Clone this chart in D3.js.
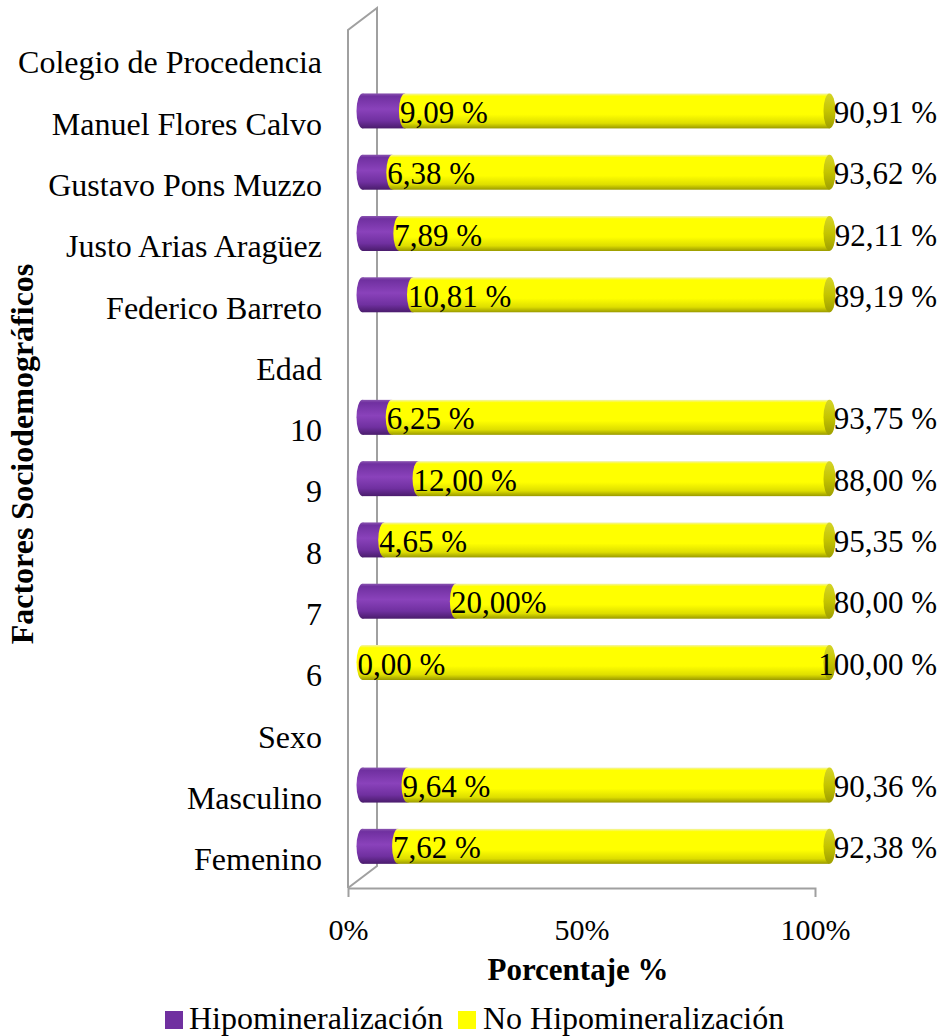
<!DOCTYPE html>
<html>
<head>
<meta charset="utf-8">
<script src="https://cdn.jsdelivr.net/npm/d3@7"></script>
<style>
  html, body { margin: 0; padding: 0; background: #ffffff; }
  svg { display: block; }
  svg text { font-family: "Liberation Serif", "Times New Roman", serif; }
</style>
</head>
<body>
<svg id="chart" width="944" height="1036"></svg>
<script>
// Categories, listed from the bottom row to the top row
const categories = [
  "Femenino", "Masculino", "Sexo",
  "6", "7", "8", "9", "10", "Edad",
  "Federico Barreto", "Justo Arias Aragüez", "Gustavo Pons Muzzo", "Manuel Flores Calvo",
  "Colegio de Procedencia"
];
// Share of pupils with hypomineralization (%), null for group headers
const hipo = [7.62, 9.64, null, 0.00, 20.00, 4.65, 12.00, 6.25, null, 10.81, 7.89, 6.38, 9.09, null];
// Share of pupils without hypomineralization (%)
const noHipo = [92.38, 90.36, null, 100.00, 80.00, 95.35, 88.00, 93.75, null, 89.19, 92.11, 93.62, 90.91, null];
// Data label texts
const hipoLabels = ["7,62 %", "9,64 %", null, "0,00 %", "20,00%", "4,65 %", "12,00 %", "6,25 %", null, "10,81 %", "7,89 %", "6,38 %", "9,09 %", null];
const noHipoLabels = ["92,38 %", "90,36 %", null, "100,00 %", "80,00 %", "95,35 %", "88,00 %", "93,75 %", null, "89,19 %", "92,11 %", "93,62 %", "90,91 %", null];
// Axis ticks and legend
const xTicks = [0, 50, 100];
const seriesNames = ["Hipomineralización", "No Hipomineralización"];
const seriesColors = ["#7030A0", "#FFFF00"];

const svg = d3.select("#chart");
const SERIF = "Liberation Serif, Times New Roman, serif";

// Front plane of the 3D box and its depth offset
const plotLeft = 348, plotRight = 815, plotTop = 30, plotBottom = 888;
const depthX = 29, depthY = -22;
const halfDX = depthX / 2, halfDY = depthY / 2;
const barH = 35, capRx = 6;

const x = d3.scaleLinear().domain([0, 100]).range([plotLeft, plotRight]);
const y = d3.scaleBand().domain(categories.slice().reverse()).range([plotTop, plotBottom]).padding(0);

// Gradients for the cylinder bodies and end caps
const defs = svg.append("defs");
function vGrad(id, stops) {
  const g = defs.append("linearGradient").attr("id", id)
    .attr("x1", 0).attr("y1", 0).attr("x2", 0).attr("y2", 1);
  stops.forEach(([o, c]) => g.append("stop").attr("offset", o).attr("stop-color", c));
}
vGrad("gPurple", [[0, "#8a55b0"], [0.08, "#7030a0"], [0.45, "#8a42bb"], [0.78, "#7030a0"], [1, "#4a1c6c"]]);
vGrad("gYellow", [[0, "#f2f2b0"], [0.08, "#ffff00"], [0.6, "#ffff00"], [0.85, "#dede00"], [1, "#9a9a00"]]);
vGrad("gYellowCap", [[0, "#d4d428"], [0.5, "#c4c400"], [1, "#9e9e00"]]);

// Walls: left side wall edges
const axisColor = "#a0a0a0";
const walls = svg.append("g").attr("fill", "none").attr("stroke", axisColor).attr("stroke-width", 2);
walls.append("path").attr("d",
  `M${plotLeft},${plotBottom}V${plotTop}L${plotLeft + depthX},${plotTop + depthY}V${plotBottom + depthY}L${plotLeft},${plotBottom}`);

// Bottom axis (floor front edge with end ticks)
const xAxis = d3.axisBottom(x)
  .tickValues(xTicks)
  .tickFormat(d => d + "%")
  .tickSizeInner(0)
  .tickSizeOuter(9)
  .tickPadding(31);
const gx = svg.append("g").attr("transform", `translate(0,${plotBottom})`).call(xAxis);
gx.select(".domain").attr("stroke", axisColor).attr("stroke-width", 2);
gx.selectAll(".tick line").remove();
gx.selectAll(".tick text")
  .attr("font-family", SERIF)
  .attr("font-size", 30).attr("fill", "#000");

// Category labels
const yAxis = d3.axisLeft(y).tickSize(0).tickPadding(26);
const gy = svg.append("g").attr("transform", `translate(${plotLeft},0)`).call(yAxis);
gy.select(".domain").remove();
gy.selectAll(".tick text")
  .attr("font-family", SERIF)
  .attr("font-size", 32).attr("fill", "#000").attr("dy", "0.4em");

// Cylinders
const rows = categories.map((c, i) => ({ cat: c, h: hipo[i], n: noHipo[i], hl: hipoLabels[i], nl: noHipoLabels[i] }))
  .filter(d => d.h !== null);
const bars = svg.append("g");
rows.forEach(d => {
  const cy = y(d.cat) + y.bandwidth() / 2 + halfDY;
  const y0 = cy - barH / 2;
  const x0 = x(0) + halfDX;
  const x1 = x(d.h) + halfDX;
  const x2 = x(d.h + d.n) + halfDX;
  const g = bars.append("g");
  if (d.h > 0) {
    g.append("ellipse").attr("cx", x0).attr("cy", cy).attr("rx", capRx).attr("ry", barH / 2).attr("fill", "url(#gPurple)");
    g.append("rect").attr("x", x0).attr("y", y0).attr("width", x1 - x0).attr("height", barH).attr("fill", "url(#gPurple)");
  }
  g.append("ellipse").attr("cx", x1).attr("cy", cy).attr("rx", capRx).attr("ry", barH / 2).attr("fill", "url(#gYellow)");
  g.append("rect").attr("x", x1).attr("y", y0).attr("width", x2 - x1).attr("height", barH).attr("fill", "url(#gYellow)");
  g.append("ellipse").attr("cx", x2).attr("cy", cy).attr("rx", capRx).attr("ry", barH / 2).attr("fill", "url(#gYellowCap)");

  g.append("text").attr("x", x1 - 5).attr("y", cy + 12)
    .attr("font-family", SERIF).attr("font-size", 31).attr("fill", "#000").text(d.hl);
  g.append("text").attr("x", 937).attr("y", cy + 12).attr("text-anchor", "end")
    .attr("font-family", SERIF).attr("font-size", 31).attr("fill", "#000").text(d.nl);
});

// Axis titles
svg.append("text").attr("x", 578).attr("y", 980).attr("text-anchor", "middle")
  .attr("font-family", SERIF).attr("font-size", 31).attr("font-weight", "bold").text("Porcentaje %");
svg.append("text").attr("transform", `translate(33,454) rotate(-90)`).attr("text-anchor", "middle")
  .attr("font-family", SERIF).attr("font-size", 32).attr("font-weight", "bold").text("Factores Sociodemográficos");

// Legend
const legendItems = [{ x: 165, tx: 189 }, { x: 458, tx: 483 }];
const legend = svg.append("g");
seriesNames.forEach((name, i) => {
  legend.append("rect").attr("x", legendItems[i].x).attr("y", 1011).attr("width", 18).attr("height", 18)
    .attr("fill", seriesColors[i]);
  legend.append("text").attr("x", legendItems[i].tx).attr("y", 1029)
    .attr("font-family", SERIF).attr("font-size", 32).attr("fill", "#000").text(name);
});
</script>
</body>
</html>
